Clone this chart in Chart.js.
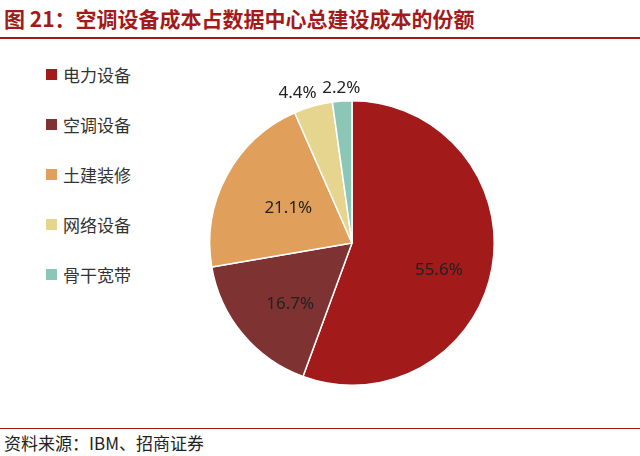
<!DOCTYPE html>
<html lang="zh">
<head>
<meta charset="UTF-8">
<script src="https://cdn.jsdelivr.net/npm/chart.js"></script>
<style>
  body { margin: 0; width: 640px; height: 456px; background: #fff; font-family: "Noto Sans CJK SC", sans-serif; position: relative; overflow: hidden; }
  .title { position: absolute; left: 4px; top: 3px; font-size: 21px; font-weight: bold; color: #A31A1A; }
  .rule-top { position: absolute; left: 0; top: 37px; width: 640px; height: 2px; background: #A31A1A; }
  .rule-bottom { position: absolute; left: 0; top: 428px; width: 640px; height: 1px; background: #A31A1A; }
  .source { position: absolute; left: 4px; top: 430px; font-size: 17px; color: #222; }
  #legend { position: absolute; left: 46px; top: 62px; }
  #legend div { height: 50px; font-size: 17px; color: #333; display: flex; align-items: flex-start; }
  #legend span.box { width: 11px; height: 11px; margin: 7px 6px 0 0; display: inline-block; }
  #wrap { position: absolute; left: 172px; top: 63px; width: 360px; height: 360px; }
</style>
</head>
<body>
<div class="title">图 21：空调设备成本占数据中心总建设成本的份额</div>
<div class="rule-top"></div>
<div id="legend"></div>
<div id="wrap"><canvas id="pie"></canvas></div>
<div class="rule-bottom"></div>
<div class="source">资料来源：IBM、招商证券</div>
<script>
const categories = ["电力设备", "空调设备", "土建装修", "网络设备", "骨干宽带"];
const shares = [55.6, 16.7, 21.1, 4.4, 2.2];
const colors = ["#A31A1A", "#7E3232", "#E0A05B", "#E6D58F", "#8CC6B6"];

const legend = document.getElementById("legend");
categories.forEach((c, i) => {
    const row = document.createElement("div");
    row.innerHTML = `<span class="box" style="background:${colors[i]}"></span>${c}`;
    legend.appendChild(row);
});

// label nudges (px) to match the original placement
const nudge = [[0, 12], [6, 5], [14, 7], [-12, 0], [0, 0]];

const pctLabels = {
    id: "pctLabels",
    afterDatasetsDraw(chart) {
        const ctx = chart.ctx;
        ctx.save();
        ctx.font = "17px 'Noto Sans', sans-serif";
        ctx.fillStyle = "#222";
        ctx.textAlign = "center";
        ctx.textBaseline = "middle";
        chart.getDatasetMeta(0).data.forEach((arc, i) => {
            const mid = (arc.startAngle + arc.endAngle) / 2;
            const small = shares[i] < 10;
            const r = small ? arc.outerRadius + 13 : arc.outerRadius * 0.62;
            const x = arc.x + Math.cos(mid) * r + nudge[i][0];
            const y = arc.y + Math.sin(mid) * r + nudge[i][1];
            ctx.fillText(shares[i].toFixed(1) + "%", x, y);
        });
        ctx.restore();
    }
};

new Chart(document.getElementById("pie"), {
    type: "pie",
    data: {
        labels: categories,
        datasets: [{ data: shares, backgroundColor: colors, borderColor: "#fff", borderWidth: 1.5 }]
    },
    options: {
        responsive: true,
        maintainAspectRatio: false,
        animation: false,
        layout: { padding: 37 },
        plugins: { legend: { display: false }, tooltip: { enabled: false } }
    },
    plugins: [pctLabels]
});
</script>
</body>
</html>
